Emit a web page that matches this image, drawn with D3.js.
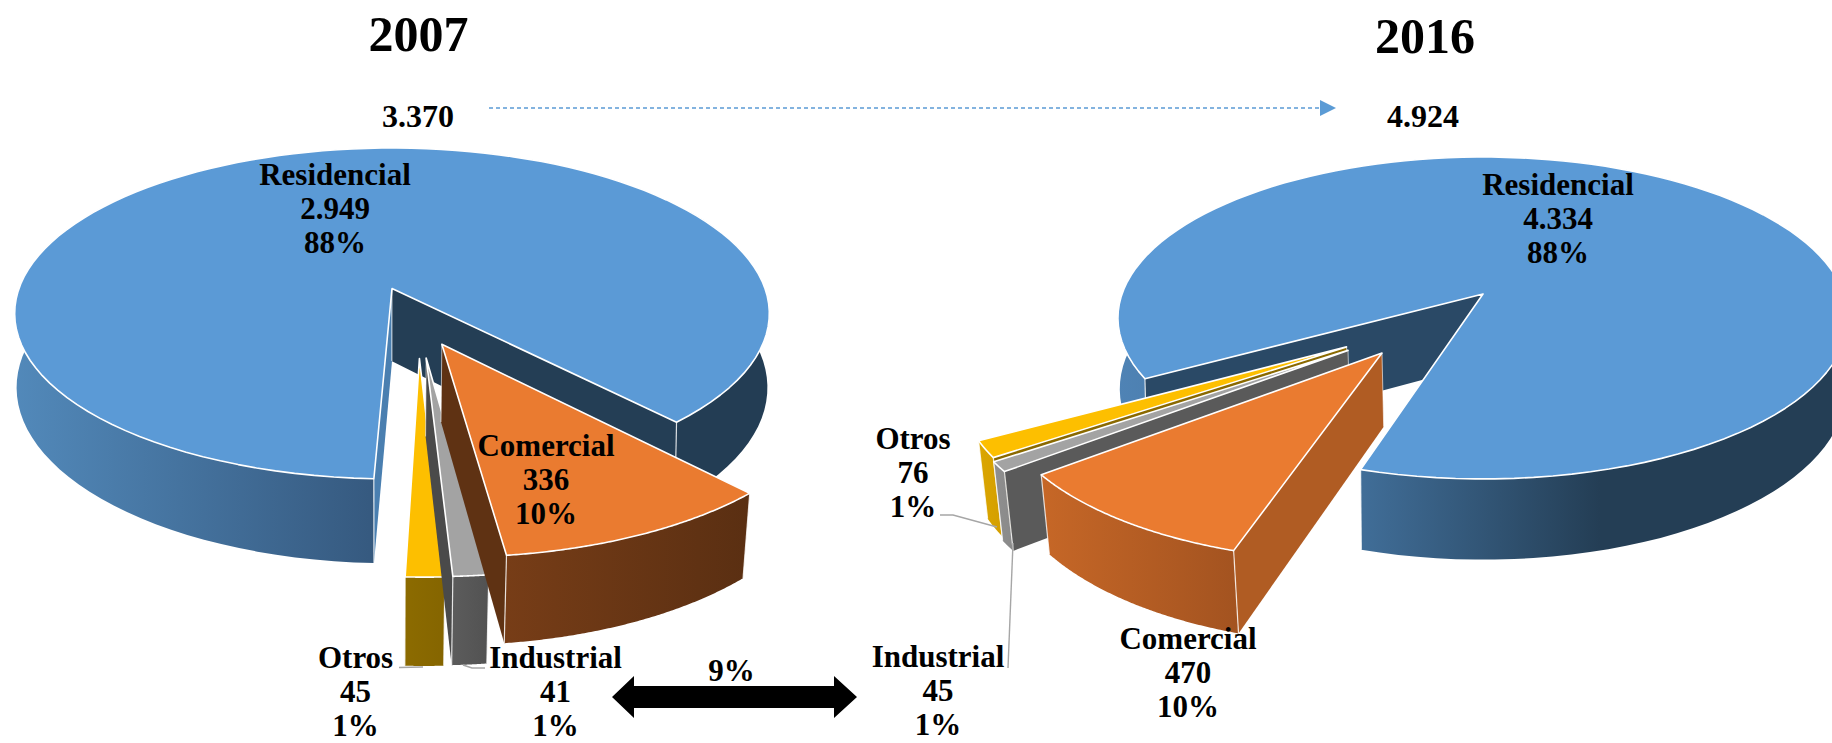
<!DOCTYPE html>
<html>
<head>
<meta charset="utf-8">
<script src="https://cdn.jsdelivr.net/npm/d3@7"></script>
<style>
  html, body { margin: 0; background: #fff; overflow: hidden; }
  text { font-family: "Liberation Serif", serif; font-weight: bold; fill: #000; text-anchor: middle; }
</style>
</head>
<body>
<div id="vis-container"></div>
<script>
// data, order is the order of the slices round the pie
const categories = ["Comercial", "Industrial", "Otros", "Residencial"];
const years = ["2007", "2016"];
const totals = [3370, 4924];
const values2007 = [336, 41, 45, 2949];
const values2016 = [470, 45, 76, 4334];
const percents2007 = [10, 1, 1, 88];
const percents2016 = [10, 1, 1, 88];
const growthLabel = "9%";

const width = 1832;
const height = 743;

const svg = d3.select("#vis-container")
  .append("svg")
  .attr("width", width)
  .attr("height", height)
  .attr("viewBox", [0, 0, width, height]);
const defs = svg.append("defs");

// spanish thousands separator
const fmt = d3.formatLocale({ decimal: ",", thousands: ".", grouping: [3], currency: ["", ""] }).format(",d");

const lineGen = d3.line();
const toRad = d => d * Math.PI / 180;

// look of each pie: perspective camera (k, m) and the slice offsets in disk units
// the big slice gets its own m and depth, its side wall drops nearly straight
const pie2007 = {
  id: "p07", values: values2007, start: 137.3,
  cx: 392, cy: 288.5, rx: 373, ry: 161.7, k: 0.151, m: 0.016, depth: 76,
  bigM: 0.005, bigDepth: 73,
  offset: { Comercial: [0.127, 0.328], Industrial: [0.086, 0.404], Otros: [0.069, 0.406], Residencial: [0, 0] },
  top: { Comercial: "#ea7b30", Industrial: "#a3a3a3", Otros: "#fdbf00", Residencial: "#5b9ad6" },
  wall: {
    Comercial: [[0, "#773d17"], [1, "#5a2f12"]],
    Industrial: [[0, "#5c5c5c"], [1, "#525252"]],
    Otros: [[0, "#8c6b00"], [1, "#856500"]],
    Residencial: [[0, "#5289ba"], [0.47, "#365a80"], [0.6, "#233d54"], [1, "#233d54"]]
  },
  startFace: { Comercial: null, Industrial: null, Otros: null, Residencial: "#4a7fb0" },
  endFace: { Comercial: "#5f3213", Industrial: "#4a4a4a", Otros: null, Residencial: "#243e55" }
};

const pie2016 = {
  id: "p16", values: values2016, start: 196.9,
  cx: 1483, cy: 294, rx: 361, ry: 157.4, k: 0.149, m: 0.016, depth: 72,
  bigM: 0.005, bigDepth: 70,
  offset: { Comercial: [-0.265, 0.355], Industrial: [-0.355, 0.34], Otros: [-0.36, 0.32], Residencial: [0, 0] },
  top: { Comercial: "#ea7b30", Industrial: "#a3a3a3", Otros: "#fdbf00", Residencial: "#5b9ad6" },
  wall: {
    Comercial: [[0, "#c66727"], [1, "#a35320"]],
    Industrial: [[0, "#8f8f8f"], [1, "#8a8a8a"]],
    Otros: [[0, "#dba600"], [1, "#d49f00"]],
    Residencial: [[0, "#4f83b5"], [0.338, "#406d97"], [0.66, "#243e55"], [1, "#243e55"]]
  },
  startFace: { Comercial: "#b05c23", Industrial: "#5a5a5a", Otros: "#8a6900", Residencial: "#2a4966" },
  endFace: { Comercial: null, Industrial: null, Otros: null, Residencial: null }
};

function project(p, u, v, h, big) {
  const m = big ? p.bigM : p.m;
  const depth = big ? p.bigDepth : p.depth;
  const d = 1 - p.k * v + m * h;
  return [p.cx + p.rx * u / d, p.cy + (p.ry * v + depth * h) / d];
}

function drawPie(p) {
  const layout = d3.pie().sort(null)
    .startAngle(toRad(p.start))
    .endAngle(toRad(p.start) + 2 * Math.PI)
    .value((d, i) => p.values[i])(categories);

  // the big slice goes first, the exploded ones in front of it
  const order = [3, 2, 1, 0];
  const g = svg.append("g");

  order.forEach(i => {
    const name = categories[i];
    const big = name === "Residencial";
    const a0 = layout[i].startAngle;
    const a1 = layout[i].endAngle;
    const [ou, ov] = p.offset[name];
    const rim = (a, h) => project(p, Math.sin(a) + ou, -Math.cos(a) + ov, h, big);
    const apex = h => project(p, ou, ov, h, big);
    const angles = d3.range(0, 121).map(t => a0 + (a1 - a0) * t / 120);

    const topRim = angles.map(a => rim(a, 0));
    const lowRim = angles.map(a => rim(a, 1));
    const xs = topRim.concat(lowRim).map(d => d[0]);

    // side wall, shaded from left to right
    const gradId = p.id + "-" + name;
    const grad = defs.append("linearGradient")
      .attr("id", gradId)
      .attr("gradientUnits", "userSpaceOnUse")
      .attr("x1", d3.min(xs)).attr("x2", d3.max(xs))
      .attr("y1", 0).attr("y2", 0);
    p.wall[name].forEach(s => grad.append("stop").attr("offset", s[0]).attr("stop-color", s[1]));

    g.append("path")
      .attr("d", lineGen(topRim.concat(lowRim.slice().reverse())) + "Z")
      .attr("fill", `url(#${gradId})`);

    // radial faces
    [[a0, p.startFace[name]], [a1, p.endFace[name]]].forEach(f => {
      if (!f[1]) return;
      g.append("path")
        .attr("d", lineGen([apex(0), rim(f[0], 0), rim(f[0], 1), apex(1)]) + "Z")
        .attr("fill", f[1]);
      g.append("path")
        .attr("d", lineGen([apex(0), apex(1)]))
        .attr("stroke", "#fff").attr("stroke-opacity", 0.6).attr("stroke-width", 1);
    });

    // vertical edges of the wall
    [a0, a1].forEach(a => {
      g.append("path")
        .attr("d", lineGen([rim(a, 0), rim(a, 1)]))
        .attr("stroke", "#fff").attr("stroke-opacity", 0.8).attr("stroke-width", 1.2);
    });

    // top of the slice
    g.append("path")
      .attr("d", lineGen([apex(0)].concat(topRim)) + "Z")
      .attr("fill", p.top[name])
      .attr("stroke", "#fff")
      .attr("stroke-width", 1.6)
      .attr("stroke-linejoin", "round");
  });
}

drawPie(pie2007);
drawPie(pie2016);

// leader lines
const leaders = [
  [[399, 667.5], [423, 667]],
  [[463, 665], [472, 668], [485, 668]],
  [[940, 515], [953, 515], [997, 527]],
  [[1013, 543], [1008, 668]]
];
svg.selectAll(".leader")
  .data(leaders)
  .join("path")
  .attr("class", "leader")
  .attr("d", d => lineGen(d))
  .attr("fill", "none")
  .attr("stroke", "#a6a6a6")
  .attr("stroke-width", 1.4);

// titles and totals
const titleX = [418.5, 1425];
const titleY = [51, 53];
const totalX = [418, 1423];
years.forEach((y, i) => {
  svg.append("text").attr("x", titleX[i]).attr("y", titleY[i]).attr("font-size", 50).text(y);
  svg.append("text").attr("x", totalX[i]).attr("y", 127).attr("font-size", 32).text(fmt(totals[i]));
});

// slice labels: name, value, percent
function label(name, value, pct, x, y) {
  const t = svg.append("text").attr("font-size", 31);
  [name, fmt(value), pct + "%"].forEach((s, j) => {
    t.append("tspan").attr("x", x).attr("y", y + j * 34.2).text(s);
  });
}
const labelPos2007 = { Comercial: [546, 456], Industrial: [555.6, 667.5], Otros: [355.6, 667.5], Residencial: [335, 185] };
const labelPos2016 = { Comercial: [1188, 649], Industrial: [938, 667], Otros: [913, 449], Residencial: [1558, 195] };
categories.forEach((c, i) => {
  label(c, values2007[i], percents2007[i], labelPos2007[c][0], labelPos2007[c][1]);
  label(c, values2016[i], percents2016[i], labelPos2016[c][0], labelPos2016[c][1]);
});

// dashed arrow between the totals
svg.append("path")
  .attr("d", lineGen([[489, 108], [1321, 108]]))
  .attr("stroke", "#5b9bd5")
  .attr("stroke-width", 1.3)
  .attr("stroke-dasharray", "4 3");
svg.append("path")
  .attr("d", lineGen([[1320, 100], [1336, 108], [1320, 116]]) + "Z")
  .attr("fill", "#5b9bd5");

// black double arrow with the growth
svg.append("path")
  .attr("d", lineGen([[612, 697], [634, 676], [634, 686], [834, 686], [834, 676], [857, 697], [834, 718], [834, 708], [634, 708], [634, 718]]) + "Z")
  .attr("fill", "#000");
svg.append("text").attr("x", 731.5).attr("y", 680.5).attr("font-size", 31).text(growthLabel);
</script>
</body>
</html>
